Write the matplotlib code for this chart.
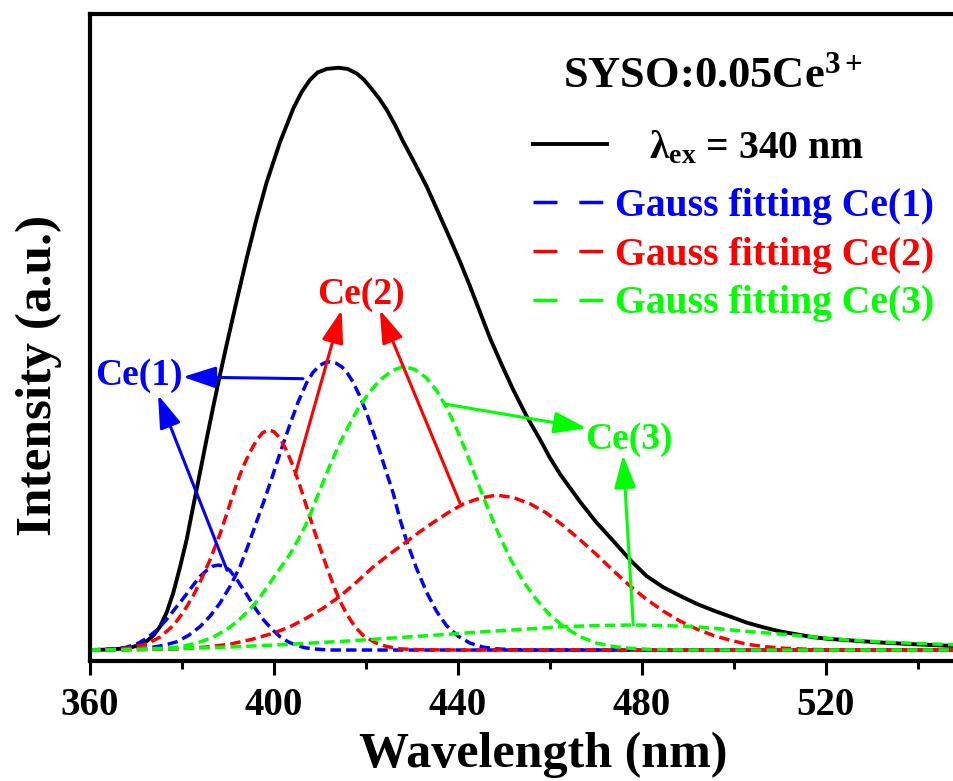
import matplotlib
matplotlib.use("Agg")
import matplotlib.pyplot as plt
from matplotlib.lines import Line2D
from matplotlib.ticker import MultipleLocator

plt.rcParams.update({
    "font.family": "Liberation Serif",
    "font.weight": "bold",
    "axes.labelweight": "bold",
    "mathtext.fontset": "custom",
    "mathtext.rm": "Liberation Serif:bold",
    "mathtext.it": "Liberation Serif:bold",
    "mathtext.bf": "Liberation Serif:bold",
})

# PL emission, excitation 340 nm (normalised intensity)
em_wl = [360, 365, 368.7, 370.5, 372.3, 373.8, 375.2, 376.7, 378.1, 379.5, 381.0,
         382.4, 383.9, 385.3, 386.8, 388.2, 389.7, 391.9, 394.1, 396.2, 398.4,
         401.3, 404.2, 406.0, 407.8, 409.5, 411.5, 414.0, 416.0, 418.0, 419.5,
         420.9, 422.7, 424.5, 426.3, 428.1, 430.6, 433.2, 435.7, 438.3, 440.5,
         442.6, 444.8, 447.0, 449.5, 452.0, 454.9, 457.8, 460.0, 462.2, 466.5,
         470.0, 473.8, 477.4, 481.0, 484.6, 488.3, 492.0, 495.5, 499.0, 502.8,
         506.4, 510.0, 513.6, 517.2, 520.8, 524.5, 531.7, 539.0, 547.6, 560]
em_int = [0.0, 0.001, 0.004, 0.008, 0.015, 0.025, 0.040, 0.065, 0.098, 0.140, 0.189,
          0.245, 0.304, 0.360, 0.418, 0.470, 0.524, 0.600, 0.674, 0.740, 0.803,
          0.872, 0.930, 0.958, 0.979, 0.992, 0.998, 1.0, 0.998, 0.990, 0.980,
          0.967, 0.949, 0.928, 0.902, 0.873, 0.836, 0.796, 0.752, 0.706, 0.666,
          0.625, 0.580, 0.535, 0.490, 0.447, 0.402, 0.362, 0.330, 0.302, 0.255,
          0.220, 0.187, 0.155, 0.127, 0.108, 0.093, 0.079, 0.068, 0.058, 0.047,
          0.039, 0.032, 0.027, 0.022, 0.019, 0.017, 0.013, 0.010, 0.007, 0.004]

# Gauss fitting Ce(1): two components
ce1a_wl = [360, 365, 367.5, 370.1, 372.3, 374.5, 376.6, 378.8, 380.7, 382.5, 384.0,
           385.4, 386.7, 387.9, 389.1, 390.4, 392.2, 394.1, 395.9, 397.7, 399.5,
           401.3, 403.1, 404.9, 406.7, 408.5, 412, 560]
ce1a_int = [0.0, 0.002, 0.004, 0.010, 0.020, 0.034, 0.052, 0.074, 0.093, 0.112, 0.127,
            0.137, 0.144, 0.146, 0.144, 0.137, 0.118, 0.095, 0.072, 0.052, 0.036,
            0.023, 0.014, 0.008, 0.004, 0.002, 0.0, 0.0]
ce1b_wl = [360, 368, 370.5, 373, 376, 378.8, 381.4, 383.9, 386.1, 388.3, 390.5,
           392.6, 394.4, 396.2, 398.1, 399.9, 401.7, 403.5, 405.3, 407.1, 408.5,
           410.0, 411.2, 412.2, 413.4, 414.8, 416.0, 417.2, 418.6, 420.1, 421.5,
           423.0, 424.4, 425.9, 427.3, 428.8, 431.0, 433.2, 435.3, 437.5, 440.0,
           442.6, 445.5, 448.4, 452, 456, 560]
ce1b_int = [0.0, 0.001, 0.002, 0.004, 0.008, 0.014, 0.025, 0.040, 0.058, 0.081, 0.110,
            0.143, 0.180, 0.220, 0.262, 0.304, 0.347, 0.388, 0.427, 0.459, 0.477,
            0.489, 0.494, 0.495, 0.493, 0.486, 0.475, 0.460, 0.437, 0.408, 0.376,
            0.341, 0.306, 0.270, 0.227, 0.188, 0.140, 0.099, 0.067, 0.042, 0.024,
            0.012, 0.005, 0.002, 0.0005, 0.0, 0.0]

# Gauss fitting Ce(2)
ce2a_wl = [360, 364, 368, 372.3, 375.2, 378.1, 380.3, 382.5, 384.3, 386.1, 388.3,
           390.4, 392.0, 393.3, 394.8, 396.2, 397.5, 398.8, 400.0, 401.3, 402.7,
           404.2, 405.6, 407.1, 408.5, 410.0, 411.5, 412.9, 414.3, 415.8, 417.6,
           419.4, 421.9, 424.5, 427.5, 432, 440, 560]
ce2a_int = [0.0, 0.001, 0.003, 0.010, 0.022, 0.042, 0.065, 0.094, 0.123, 0.155, 0.200,
            0.250, 0.288, 0.315, 0.340, 0.360, 0.373, 0.378, 0.375, 0.364, 0.343,
            0.315, 0.283, 0.246, 0.211, 0.176, 0.142, 0.112, 0.085, 0.062, 0.040,
            0.025, 0.013, 0.006, 0.002, 0.0005, 0.0, 0.0]
ce2b_wl = [360, 370, 379.6, 385, 390.4, 395, 399.9, 403.5, 407.1, 410.7, 414.3,
           418.0, 421.6, 425.2, 428.8, 431.7, 434.6, 437.9, 441.2, 444.8, 448.4,
           452.0, 455.7, 459.1, 462.5, 466.3, 470.1, 473.8, 477.4, 481.0, 484.6,
           488.2, 491.9, 495.5, 499.1, 502.8, 506.4, 511, 517, 525, 560]
ce2b_int = [0.0, 0.0005, 0.002, 0.005, 0.010, 0.018, 0.029, 0.040, 0.055, 0.072, 0.092,
            0.117, 0.143, 0.165, 0.186, 0.203, 0.219, 0.236, 0.251, 0.261, 0.266,
            0.262, 0.251, 0.236, 0.216, 0.191, 0.164, 0.136, 0.110, 0.087, 0.067,
            0.050, 0.036, 0.025, 0.017, 0.010, 0.006, 0.003, 0.001, 0.0, 0.0]

# Gauss fitting Ce(3)
ce3a_wl = [360, 366, 370, 376, 380, 383.2, 386.5, 389.7, 392.3, 394.8, 397.0,
           399.1, 401.3, 403.5, 405.3, 407.1, 408.5, 410.0, 412.1, 414.3, 416.5,
           418.7, 420.9, 423.0, 425.5, 428.1, 430.6, 433.2, 435.3, 437.5, 439.7,
           441.9, 444.0, 446.2, 448.8, 451.5, 454.2, 457.0, 460.0, 463.0, 466.5,
           470.1, 473.8, 477.4, 482, 490, 560]
ce3a_int = [0.0, 0.0005, 0.001, 0.003, 0.006, 0.012, 0.021, 0.035, 0.051, 0.070, 0.091,
            0.115, 0.140, 0.165, 0.190, 0.218, 0.245, 0.275, 0.316, 0.355, 0.389,
            0.420, 0.444, 0.463, 0.479, 0.487, 0.482, 0.467, 0.446, 0.417, 0.380,
            0.338, 0.294, 0.249, 0.200, 0.155, 0.118, 0.087, 0.060, 0.040, 0.023,
            0.012, 0.006, 0.003, 0.001, 0.0, 0.0]
ce3b_wl = [360, 370, 380, 390, 401.3, 415, 430.3, 444.8, 455, 462.5, 470, 478, 485,
           491.9, 501.4, 512.3, 523.2, 534, 547.8, 560]
ce3b_int = [0.0, 0.001, 0.003, 0.005, 0.009, 0.015, 0.023, 0.031, 0.036, 0.040, 0.042,
            0.043, 0.042, 0.040, 0.033, 0.026, 0.018, 0.013, 0.009, 0.006]

x_ticks = [360, 400, 440, 480, 520]

BLUE, RED, GREEN = "#0000FF", "#FF0000", "#00FF00"
dash = (0, (3, 1.5))
leg_dash = (0, (6.9, 6.3))

fig = plt.figure(figsize=(9.54, 7.81), dpi=100)
# right spine falls outside the picture, as in the original
ax = fig.add_axes([0.0943, 0.1536, 0.9644, 0.8284])

ax.plot(em_wl, em_int, color="black", lw=2.8)
ax.plot(ce1a_wl, ce1a_int, color=BLUE, lw=2.5, ls=dash)
ax.plot(ce1b_wl, ce1b_int, color=BLUE, lw=2.5, ls=dash)
ax.plot(ce2a_wl, ce2a_int, color=RED, lw=2.5, ls=dash)
ax.plot(ce2b_wl, ce2b_int, color=RED, lw=2.5, ls=dash)
ax.plot(ce3a_wl, ce3a_int, color=GREEN, lw=2.5, ls=dash)
ax.plot(ce3b_wl, ce3b_int, color=GREEN, lw=2.5, ls=dash)

ax.set_xlim(360, 560)
ax.set_ylim(-0.0189, 1.0922)
ax.set_xticks(x_ticks)
ax.xaxis.set_minor_locator(MultipleLocator(20))
ax.set_yticks([])
ax.tick_params(axis="x", which="major", length=10, width=2.2, labelsize=28, pad=9)
ax.tick_params(axis="x", which="minor", length=6, width=2.2)
for s in ax.spines.values():
    s.set_linewidth(3)

ax.set_xlabel("Wavelength (nm)", fontsize=36, va="center")
ax.xaxis.set_label_coords(0.4924, -0.1453)
ax.set_ylabel("Intensity (a.u.)", fontsize=37, va="center")
ax.yaxis.set_label_coords(-0.056, 0.442)

# labels with arrows
arrow = "-|>,head_length=1.0,head_width=0.33"
def pointer(tail, head, c):
    ax.annotate("", xy=head, xytext=tail,
                arrowprops=dict(arrowstyle=arrow, color=c, lw=2.2,
                                mutation_scale=20, shrinkA=0, shrinkB=0))

ax.text(370.6, 0.471, "Ce(1)", color=BLUE, fontsize=27, ha="center", va="center")
pointer((406.3, 0.466), (380.2, 0.469), BLUE)
pointer((389.8, 0.137), (374.8, 0.438), BLUE)

ax.text(418.9, 0.611, "Ce(2)", color=RED, fontsize=27, ha="center", va="center")
pointer((404.6, 0.301), (414.7, 0.584), RED)
pointer((440.4, 0.253), (423.0, 0.584), RED)

ax.text(477.1, 0.362, "Ce(3)", color=GREEN, fontsize=27, ha="center", va="center")
pointer((437.5, 0.422), (468.0, 0.381), GREEN)
pointer((478.1, 0.043), (475.9, 0.335), GREEN)

fig.text(713.5 / 954, 1 - 87 / 781, "SYSO:0.05Ce$^{3+}$", fontsize=32,
         ha="center", va="baseline")

# legend: measured curve, then the three Gauss components
leg1 = ax.legend([Line2D([], [], color="black", lw=2.8)],
                 ["λ$_{\\mathrm{ex}}$ = 340 nm"],
                 loc="center left", frameon=False, fontsize=28.5,
                 bbox_to_anchor=(533 / 954, 1 - 148 / 781),
                 bbox_transform=fig.transFigure, borderpad=0, borderaxespad=0,
                 handlelength=1.87, handletextpad=1.05)
ax.add_artist(leg1)

fit_handles = [Line2D([], [], color=c, lw=2.5, ls=leg_dash) for c in (BLUE, RED, GREEN)]
fit_labels = ["Gauss fitting Ce(1)", "Gauss fitting Ce(2)", "Gauss fitting Ce(3)"]
leg2 = ax.legend(fit_handles, fit_labels, loc="center left", frameon=False,
                 fontsize=28.5, bbox_to_anchor=(533 / 954, 1 - 255 / 781),
                 bbox_transform=fig.transFigure, borderpad=0, borderaxespad=0,
                 handlelength=1.87, handletextpad=0.2, labelspacing=0.3)
for txt, c in zip(leg2.get_texts(), (BLUE, RED, GREEN)):
    txt.set_color(c)

fig.savefig("out.png", dpi=100)
plt.close(fig)
